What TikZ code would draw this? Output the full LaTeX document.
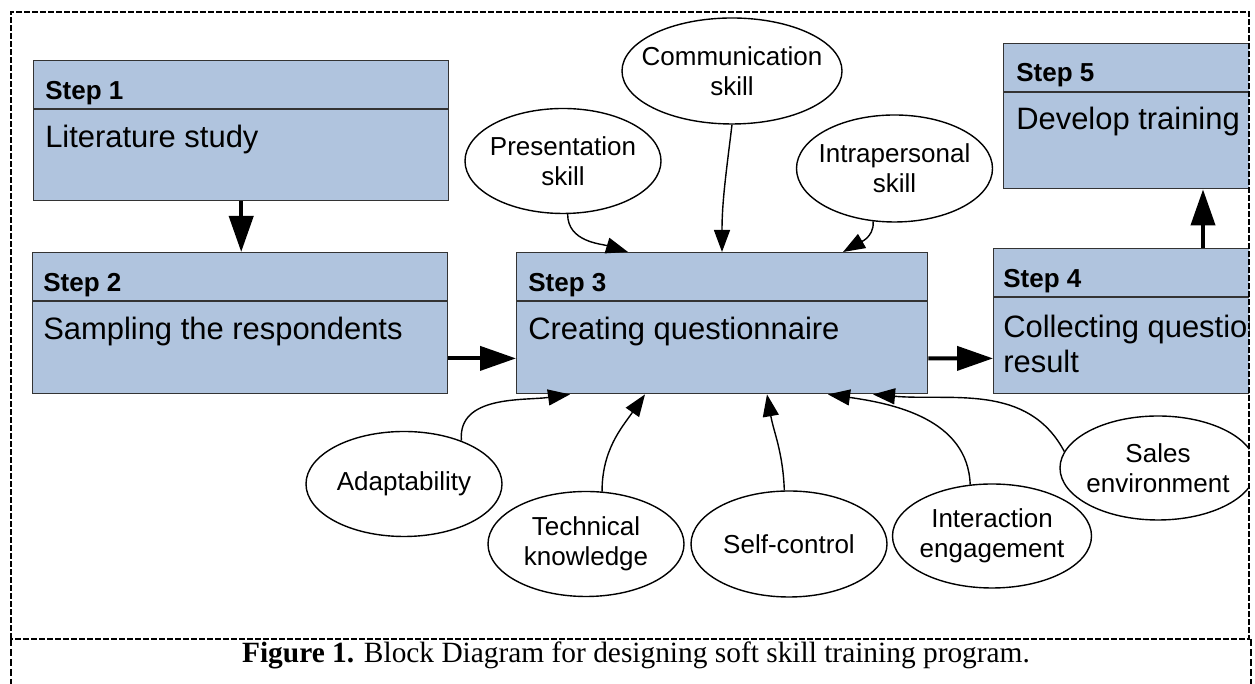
\documentclass[tikz,border=0pt]{standalone}
\usepackage{fontspec}
\setmainfont{Liberation Sans}
\newfontfamily\capfont{Liberation Serif}
\usetikzlibrary{arrows.meta,shapes.geometric,calc}
\definecolor{stepblue}{RGB}{176,196,222}
\def\outerframe{(11,45) rectangle (1249,672)}
\tikzset{
  stepbox/.style={draw=black!80, fill=stepblue, line width=0.35mm, anchor=north west,
    inner sep=0pt, minimum width=102.75mm, minimum height=36.25mm},
  steptitle/.style={anchor=base west, inner sep=0pt, font=\fontsize{18.5}{22}\selectfont\bfseries},
  stepbody/.style={anchor=base west, inner sep=0pt, align=left, font=\fontsize{22}{25.6}\selectfont},
  skill/.style={draw, ellipse, line width=0.35mm, inner xsep=-6mm, inner ysep=0pt, align=center,
    minimum width=49mm, minimum height=26.25mm, font=\fontsize{18.5}{21.3}\selectfont},
  flow/.style={line width=1mm, -{Triangle[length=9mm,width=6mm]}},
  feed/.style={line width=0.35mm, -{Triangle[length=5.5mm,width=4mm]}},
  frameline/.style={line width=0.6mm, dash pattern=on 1.4mm off 0.6mm}
}

\begin{document}
\begin{tikzpicture}[x=0.25mm,y=0.25mm]
\useasboundingbox (0,0) rectangle (1255,684);
\begin{scope}
  \clip \outerframe;
  \node[stepbox, minimum width=103.75mm, minimum height=35mm] (s1) at (33,624) {};
  \node[stepbox, minimum width=103.75mm, minimum height=35.25mm] (s2) at (32,432) {};
  \node[stepbox, minimum height=35.25mm] (s3) at (516,432) {};
  \node[stepbox] (s4) at (993,436) {};
  \node[stepbox] (s5) at (1003,641) {};
  \foreach \s in {s1,s2,s3,s4,s5}
    \draw[line width=0.35mm, black!80] ([yshift=-12.25mm]\s.north west) -- ([yshift=-12.25mm]\s.north east);

  \node[steptitle] (t1) at ([shift={(12,-40)}]s1.north west) {Step 1};
  \node[stepbody] (b1) at ([shift={(12,-88)}]s1.north west) {Literature study};
  \node[steptitle] (t2) at ([shift={(11,-40)}]s2.north west) {Step 2};
  \node[stepbody] (b2) at ([shift={(11,-88)}]s2.north west) {Sampling the respondents};
  \node[steptitle] (t3) at ([shift={(12,-40)}]s3.north west) {Step 3};
  \node[stepbody] (b3) at ([shift={(12,-88)}]s3.north west) {Creating questionnaire};
  \node[steptitle] (t4) at ([shift={(10,-40)}]s4.north west) {Step 4};
  \node[stepbody] (b4) at ([shift={(10,-125)}]s4.north west) {Collecting questionnaire\\result};
  \node[steptitle] (t5) at ([shift={(13,-39)}]s5.north west) {Step 5};
  \node[stepbody] (b5) at ([shift={(13,-87)}]s5.north west) {Develop training};

  \node[skill] (pres) at (563,523) {Presentation\\skill};
  \node[skill, minimum width=55mm, minimum height=26.5mm] (comm) at (732,613) {Communication\\skill};
  \node[skill, minimum height=26.75mm] (intra) at (894.5,515.5) {Intrapersonal\\skill};
  \node[skill] (adapt) at (404,200) {Adaptability};
  \node[skill] (tech) at (586,140) {Technical\\knowledge};
  \node[skill, minimum height=26.5mm] (self) at (789,140) {Self-control};
  \node[skill, minimum width=49.75mm, minimum height=26mm] (inter) at (992,148) {Interaction\\engagement};
  \node[skill, minimum height=26mm] (sales) at (1158,216) {Sales\\environment};

  \draw[flow] (s1.south) -- (s1.south |- s2.north);
  \draw[flow] ($(s2.south east)+(0,36)$) -- ($(s3.south west)+(0,36)$);
  \draw[flow] ($(s3.south east)+(0,36)$) -- ($(s4.south west)+(0,36)$);
  \draw[flow] ($(s4.north west)+(210,0)$) -- ($(s5.south west)+(200,0)$);

  \draw[feed] (pres.-85) to[out=-90,in=163] ($(s3.north west)+(112,0)$);
  \draw[feed] (comm.south) to[out=-97,in=90] ($(s3.north west)+(206,0)$);
  \draw[feed] (intra.-112) to[out=-85,in=30] ($(s3.north west)+(327,0)$);
  \draw[feed] (adapt.37) to[out=95,in=188] ($(s3.south west)+(54,0)$);
  \draw[feed] (tech.73) to[out=90,in=235] ($(s3.south west)+(129,0)$);
  \draw[feed] (self.95) to[out=92,in=-80] ($(s3.south west)+(251,0)$);
  \draw[feed] (inter.113) to[out=92,in=-8] ($(s3.south west)+(312,0)$);
  \draw[feed] (sales.170) to[out=118,in=-5] ($(s3.south west)+(357,0)$);
\end{scope}

\draw[frameline] \outerframe;
\draw[frameline, dash pattern=on 1.75mm off 0.75mm] (11,45) -- (11,0) (1251,45) -- (1251,0);
\node[anchor=base, inner sep=0pt, font=\capfont\fontsize{20.9}{24}\selectfont] (caption) at (636,21)
  {\textbf{Figure 1.} Block Diagram for designing soft skill training program.};
\end{tikzpicture}
\end{document}
